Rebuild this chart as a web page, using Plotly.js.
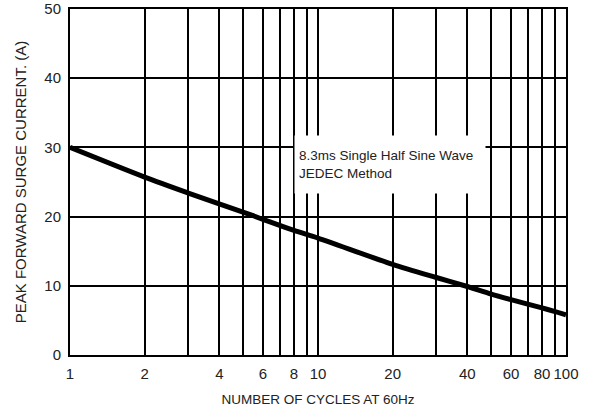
<!DOCTYPE html>
<html>
<head>
<meta charset="utf-8">
<script src="https://cdn.plot.ly/plotly-3.0.1.min.js"></script>
<style>html,body{margin:0;padding:0;background:#fff;}#chart{width:596px;height:414px;}</style>
</head>
<body>
<div id="chart"></div>
<script>
// Data
const cycles = [1, 2, 3, 5.4, 8, 10, 20, 30, 40, 50, 60, 80, 100];
const surgeCurrent = [30, 25.7, 23.4, 20.2, 18.0, 16.9, 13.1, 11.2, 9.9, 8.8, 8.0, 6.8, 5.8];

const xGridVals = [1, 2, 3, 4, 5, 6, 7, 8, 9, 10, 20, 30, 40, 50, 60, 70, 80, 90, 100];
const xTickText = ['1', '2', '', '4', '', '6', '', '8', '', '10', '20', '', '40', '', '60', '', '80', '', '100'];
const yTickVals = [0, 10, 20, 30, 40, 50];

const noteText = '8.3ms Single Half Sine Wave<br>JEDEC Method';
const xTitle = 'NUMBER OF CYCLES AT 60Hz';
const yTitle = 'PEAK FORWARD SURGE CURRENT. (A)';

const font = {family: 'Liberation Sans, Arial, sans-serif', size: 15, color: '#222'};

const trace = {
  x: cycles, y: surgeCurrent, type: 'scatter', mode: 'lines',
  line: {color: '#000', width: 5, shape: 'spline', smoothing: 0.8}, hoverinfo: 'skip', showlegend: false
};

const layout = {
  width: 596, height: 414,
  margin: {l: 70, r: 30, t: 9, b: 59},
  paper_bgcolor: '#fff', plot_bgcolor: '#fff',
  font: font,
  xaxis: {
    type: 'log', range: [0, 2],
    tickmode: 'array', tickvals: xGridVals, ticktext: xTickText,
    showgrid: true, gridcolor: '#000', gridwidth: 2,
    showline: true, linecolor: '#000', linewidth: 2, mirror: true,
    ticks: '', zeroline: false, ticklabelstandoff: 4,
    title: {text: xTitle, font: {size: 13.5, color: '#222'}, standoff: 14}
  },
  yaxis: {
    range: [0, 50], tickmode: 'array', tickvals: yTickVals,
    showgrid: true, gridcolor: '#000', gridwidth: 2,
    showline: true, linecolor: '#000', linewidth: 2, mirror: true,
    ticks: '', zeroline: false, ticklabelstandoff: 4,
    title: {text: yTitle, font: {size: 15, color: '#222'}, standoff: 14}
  },
  annotations: [{
    xref: 'paper', yref: 'paper', x: 0.4516, y: 0.636,
    xanchor: 'left', yanchor: 'top',
    width: 182, height: 49, align: 'left', valign: 'middle',
    text: noteText, showarrow: false, bgcolor: '#fff', borderpad: 4,
    font: {size: 13.5, color: '#222'}
  }]
};

Plotly.newPlot('chart', [trace], layout, {displayModeBar: false, staticPlot: true});
</script>
</body>
</html>
